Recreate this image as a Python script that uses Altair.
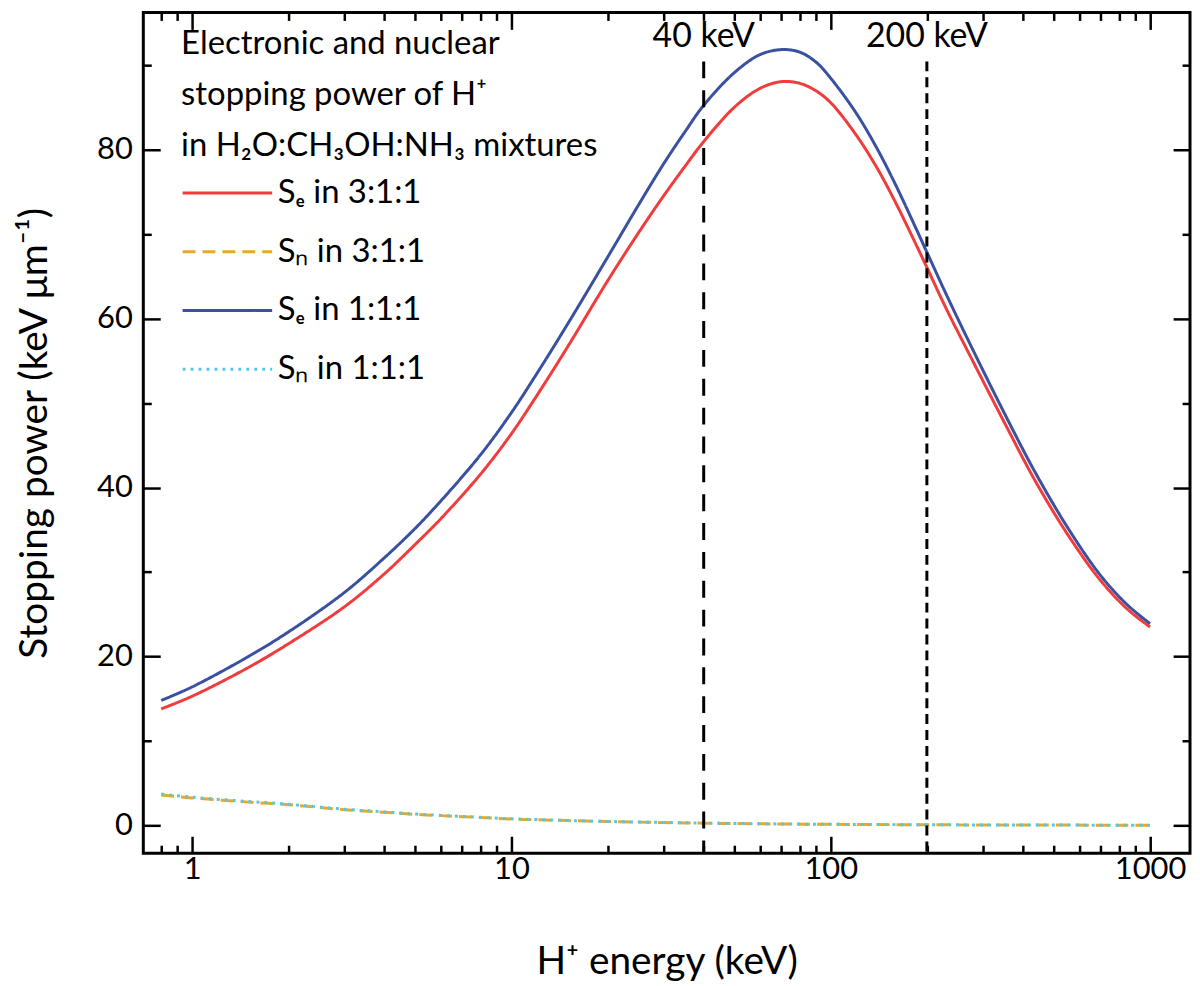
import pandas as pd
import altair as alt

# H+ energy (keV) and stopping power (keV/um)
energy = [0.8, 1, 1.5, 2, 3, 4, 5, 6, 8, 10, 12, 15, 20, 25, 30, 35, 40, 50, 60, 70,
          80, 90, 100, 120, 140, 160, 185, 200, 230, 270, 350, 440, 560, 700, 850, 1000]
se_311 = [13.8, 15.3, 18.7, 21.5, 25.9, 29.8, 33.3, 36.3, 41.6, 46.4, 50.9, 56.7, 64.5, 70.2,
          74.6, 78.1, 81.0, 85.1, 87.3, 88.1, 87.9, 87.0, 85.6, 81.8, 77.8, 73.7, 68.8, 66.1,
          61.2, 56.0, 47.7, 40.6, 34.1, 29.0, 25.6, 23.5]
sn_311 = [3.6, 3.25, 2.75, 2.45, 1.85, 1.55, 1.3, 1.15, 0.93, 0.75, 0.66, 0.56, 0.45, 0.38,
          0.33, 0.29, 0.26, 0.21, 0.18, 0.16, 0.14, 0.13, 0.12, 0.10, 0.09, 0.08, 0.07, 0.065,
          0.058, 0.05, 0.04, 0.033, 0.027, 0.022, 0.019, 0.016]
se_111 = [14.8, 16.4, 20.0, 22.9, 27.6, 31.7, 35.2, 38.4, 43.9, 48.9, 53.5, 59.4, 67.3, 73.5,
          78.4, 82.2, 85.3, 89.2, 91.3, 91.9, 91.6, 90.4, 88.5, 84.4, 80.1, 75.8, 70.7, 67.9,
          62.9, 57.4, 48.8, 41.6, 34.9, 29.6, 26.1, 23.9]
sn_111 = [3.7, 3.33, 2.82, 2.5, 1.9, 1.59, 1.34, 1.18, 0.95, 0.77, 0.68, 0.57, 0.46, 0.39,
          0.34, 0.3, 0.27, 0.22, 0.19, 0.165, 0.145, 0.135, 0.125, 0.105, 0.093, 0.083, 0.073,
          0.068, 0.06, 0.052, 0.042, 0.034, 0.028, 0.023, 0.02, 0.017]

series_names = ["Sₑ in 3:1:1", "Sₙ in 3:1:1", "Sₑ in 1:1:1", "Sₙ in 1:1:1"]
series_colors = ["#F03C3C", "#E8A92A", "#3A50A0", "#5AC8DC"]
series_dashes = [[1, 0], [13, 7], [1, 0], [3, 5]]

marker_energy = [40, 200]
marker_text = ["40 keV", "200 keV"]

x_major = [1, 10, 100, 1000]
x_minor = [0.8, 0.9, 2, 3, 4, 5, 6, 7, 8, 9, 20, 30, 40, 50, 60, 70, 80, 90,
           200, 300, 400, 500, 600, 700, 800, 900]
y_major = [0, 20, 40, 60, 80]
y_minor = [10, 30, 50, 70, 90]

rows = []
for name, vals in zip(series_names, [se_311, sn_311, se_111, sn_111]):
    for e, v in zip(energy, vals):
        rows.append({"energy": e, "power": v, "series": name})
curves = pd.DataFrame(rows)
markers = pd.DataFrame({"energy": marker_energy, "label": marker_text})

FONT = "Lato"
W, H = 1052, 845

x_scale = alt.Scale(type="log", domain=[0.703, 1334], nice=False)
y_scale = alt.Scale(domain=[-3.3, 96.3], nice=False, zero=False)

x_is_major = "indexof(%s, datum.value) >= 0" % x_major
y_is_major = "indexof(%s, datum.value) >= 0" % y_major


def tick_len(test):
    # inward ticks: long for major, short for minor
    return {"condition": {"test": test, "value": -17}, "value": -8}


common_axis = dict(domain=False, grid=False, tickColor="black", tickWidth=2.5,
                   labelFont=FONT, labelFontSize=31, labelColor="black",
                   titleFont=FONT, titleFontSize=39, titleFontWeight="normal",
                   titleColor="black", labelOverlap=False)

x_bottom = alt.Axis(orient="bottom", values=sorted(x_major + x_minor),
                    tickSize=tick_len(x_is_major), labelPadding=18, titlePadding=50,
                    labelExpr=f"{x_is_major} ? format(datum.value, 'd') : ''",
                    labelFlush=False, title="H⁺ energy (keV)", **common_axis)
y_left = alt.Axis(orient="left", values=sorted(y_major + y_minor),
                  tickSize=tick_len(y_is_major), labelPadding=28, titlePadding=42,
                  labelExpr=f"{y_is_major} ? datum.label : ''",
                  title="Stopping power (keV μm⁻¹)", **common_axis)
x_top = alt.Axis(orient="top", values=sorted(x_major + x_minor),
                 tickSize=tick_len(x_is_major), labels=False, title=None, **common_axis)
y_right = alt.Axis(orient="right", values=sorted(y_major + y_minor),
                   tickSize=tick_len(y_is_major), labels=False, title=None, **common_axis)

legend = alt.Legend(
    title=["Electronic and nuclear", "stopping power of H⁺", "in H₂O:CH₃OH:NH₃ mixtures"],
    orient="none", legendX=38, legendY=16, padding=0,
    titleFont=FONT, titleFontSize=33, titleFontWeight="normal", titleColor="black",
    titleLineHeight=51, titlePadding=14, titleLimit=800,
    labelFont=FONT, labelFontSize=33, labelColor="black", labelOffset=64, labelLimit=400,
    symbolType="M-1,0H5", symbolSize=900, symbolStrokeWidth=3, rowPadding=25,
)

lines = alt.Chart(curves).mark_line(strokeWidth=3, interpolate="catmull-rom").encode(
    x=alt.X("energy:Q", scale=x_scale, axis=x_bottom),
    y=alt.Y("power:Q", scale=y_scale, axis=y_left),
    color=alt.Color("series:N", scale=alt.Scale(domain=series_names, range=series_colors),
                    legend=legend),
    strokeDash=alt.StrokeDash("series:N",
                              scale=alt.Scale(domain=series_names, range=series_dashes),
                              legend=legend),
    order=alt.Order("energy:Q"),
)

rule_40 = alt.Chart(markers).transform_filter(alt.datum.energy == 40).mark_rule(
    color="black", strokeWidth=3, strokeDash=[17, 12]
).encode(
    x=alt.X("energy:Q", scale=x_scale, axis=x_top),
    y=alt.Y(datum=90.5, scale=y_scale, axis=y_right),
    y2=alt.value(H),
)

rule_200 = alt.Chart(markers).transform_filter(alt.datum.energy == 200).mark_rule(
    color="black", strokeWidth=3, strokeDash=[10, 6]
).encode(
    x=alt.X("energy:Q", scale=x_scale, axis=None),
    y=alt.Y(datum=90.5, scale=y_scale, axis=None),
    y2=alt.value(H),
)

labels = alt.Chart(markers).mark_text(
    font=FONT, fontSize=34, color="black", align="center", baseline="alphabetic"
).encode(
    x=alt.X("energy:Q", scale=x_scale, axis=None),
    y=alt.Y(datum=92.2, scale=y_scale, axis=None),
    text="label:N",
)

chart = alt.layer(lines, rule_40, rule_200, labels).resolve_axis(
    x="independent", y="independent"
).properties(
    width=W, height=H, padding={"left": 8, "top": 0, "right": 0, "bottom": 0},
    background="white",
).configure_view(stroke="black", strokeWidth=3)

chart.save("out.html", embed_options={"renderer": "svg", "actions": False})
